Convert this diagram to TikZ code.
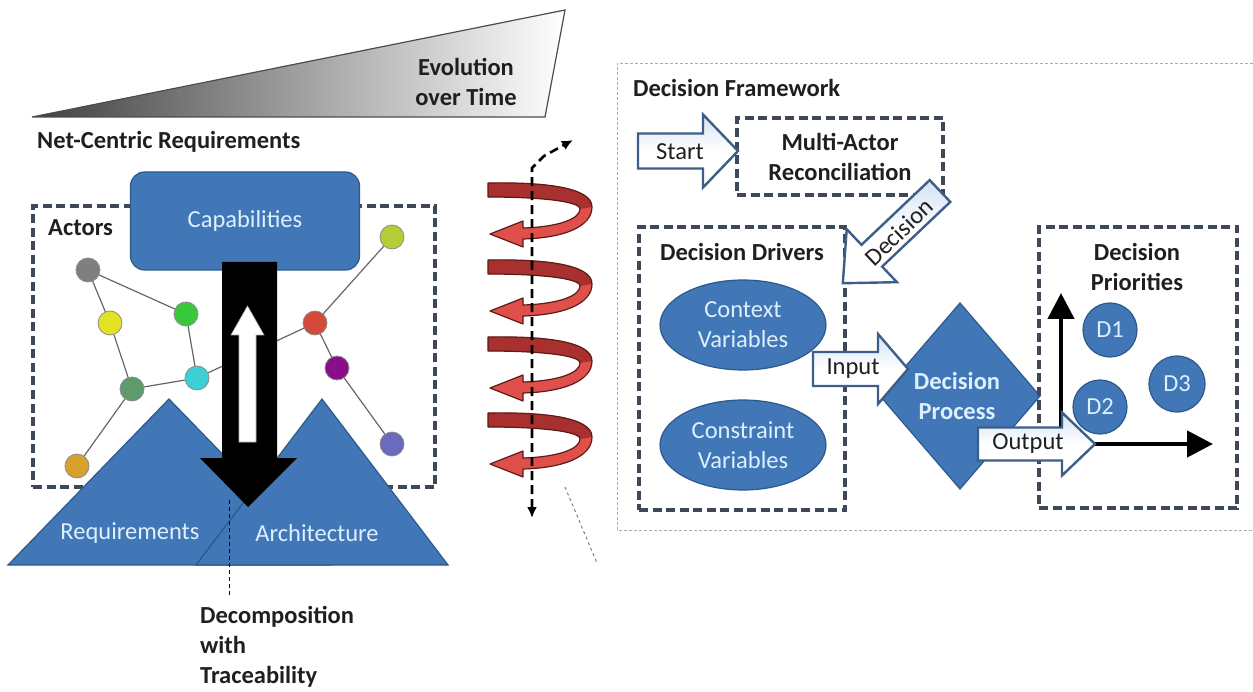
\documentclass[tikz,border=0pt]{standalone}
\usepackage{fontspec}
\setmainfont{Carlito}
\usetikzlibrary{shapes.geometric,arrows.meta}

\definecolor{shapeblue}{HTML}{4176B7}
\definecolor{shapeedge}{HTML}{2D5A8C}
\definecolor{paletext}{HTML}{DDF0FF}
\definecolor{dashgray}{HTML}{3F4858}
\definecolor{framegray}{HTML}{ABABAB}
\definecolor{arrowtop}{HTML}{D3E2F2}
\definecolor{arrowedge}{HTML}{3C5E88}
\definecolor{coildark}{HTML}{A8302E}
\definecolor{coillight}{HTML}{E0504A}
\definecolor{coiledge}{HTML}{5C1A18}
\definecolor{ngray}{HTML}{7F7F7F}
\definecolor{nyellow}{HTML}{E3E323}
\definecolor{ngreen}{HTML}{39C83C}
\definecolor{nsea}{HTML}{5E9A6C}
\definecolor{ncyan}{HTML}{3CCFD6}
\definecolor{norange}{HTML}{D6A22B}
\definecolor{nlime}{HTML}{B6CC36}
\definecolor{nred}{HTML}{D5493A}
\definecolor{npurple}{HTML}{8A0E8A}
\definecolor{nslate}{HTML}{6B6BBE}

\tikzset{
  lbl/.style={font={\fontsize{24.5}{30}\selectfont}, inner sep=0pt, text=black!88},
  hd/.style={lbl, font={\fontsize{24.5}{30}\selectfont\bfseries}},
  inblue/.style={lbl, text=paletext, align=center},
  bluefill/.style={fill=shapeblue, draw=shapeedge, line width=1.2pt, line join=miter},
  dashbox/.style={draw=dashgray, line width=3.2pt, dash pattern=on 9pt off 4.5pt},
  actor/.style={circle, draw=black!45, line width=0.8pt, minimum size=24pt, inner sep=0pt},
  link/.style={draw=black!60, line width=1.2pt},
  blockarrow/.style={top color=arrowtop, bottom color=white, middle color=white, draw=arrowedge, line width=2.4pt, line join=miter},
  axisarrow/.style={line width=4.5pt, -{Triangle[length=26pt,width=26pt]}},
  coil/.pic={
    \fill[coillight] (0,0) .. controls (55,-1) and (104,4) .. (104,24)
      .. controls (104,44) and (75,55) .. (35,56) -- (35,64) -- (2,51) -- (35,38) -- (35,45)
      .. controls (70,44) and (92,36) .. (92,26) .. controls (92,18) and (50,14) .. (0,14) -- cycle;
    \fill[coildark] (0,0) .. controls (55,-1) and (104,4) .. (104,24) -- (92,26)
      .. controls (92,18) and (50,14) .. (0,14) -- cycle;
    \draw[coiledge, line width=1.2pt, line join=round] (0,0) .. controls (55,-1) and (104,4) .. (104,24)
      .. controls (104,44) and (75,55) .. (35,56) -- (35,64) -- (2,51) -- (35,38) -- (35,45)
      .. controls (70,44) and (92,36) .. (92,26) .. controls (92,18) and (50,14) .. (0,14) -- cycle;
  }
}

% block arrow: tail point, direction, length, head length, shaft half-width, head half-width
\newcommand{\blkarrow}[6]{%
  \begin{scope}[shift={(#1)}, rotate=#2]
    \path[blockarrow] (0,-#5) -- ({#3-#4},-#5) -- ({#3-#4},-#6) -- (#3,0)
      -- ({#3-#4},#6) -- ({#3-#4},#5) -- (0,#5) -- cycle;
  \end{scope}}

\begin{document}
\begin{tikzpicture}[x=1pt,y=-1pt]
\useasboundingbox (0,0) rectangle (1253,692);

% ---------- evolution wedge ----------
\coordinate (wl) at (32,117);
\coordinate (wt) at (565,10);
\coordinate (wb) at (545,117);
\shade[left color=black!75, middle color=black!20, right color=white] (wl) -- (wt) -- (wb) -- cycle;
\draw[black!70, line width=1.2pt, line join=miter] (wl) -- (wt) -- (wb) -- cycle;
\node[hd, align=center] (evo) at (466,82) {Evolution\\over Time};

\node[hd, anchor=west] (ncr) at (37,142) {Net-Centric Requirements};

% ---------- actors ----------
\node[dashbox, minimum width=402pt, minimum height=281pt, inner sep=0pt] (actors) at (234,346.5) {};
\node[hd, anchor=west] (actorslbl) at (48,228) {Actors};

\node[actor, fill=ngray]   (a1)  at (88,270) {};
\node[actor, fill=nyellow] (a2)  at (110,323) {};
\node[actor, fill=ngreen]  (a3)  at (186,314) {};
\node[actor, fill=nsea]    (a4)  at (132,389) {};
\node[actor, fill=ncyan]   (a5)  at (197,378) {};
\node[actor, fill=norange] (a6)  at (77,466) {};
\node[actor, fill=nlime]   (a7)  at (392,237) {};
\node[actor, fill=nred]    (a8)  at (315,323) {};
\node[actor, fill=npurple] (a9)  at (337,368) {};
\node[actor, fill=nslate]  (a10) at (392,444) {};
\draw[link] (a1) -- (a2);
\draw[link] (a1) -- (a3);
\draw[link] (a2) -- (a4);
\draw[link] (a3) -- (a5);
\draw[link] (a4) -- (a5);
\draw[link] (a4) -- (a6);
\draw[link] (a5) -- (a8);
\draw[link] (a7) -- (a8);
\draw[link] (a8) -- (a9);
\draw[link] (a9) -- (a10);

\node[bluefill, rounded corners=14pt, minimum width=229pt, minimum height=98pt, inblue] (cap) at (245,221) {Capabilities};

% ---------- requirements / architecture ----------
\filldraw[bluefill] (8,565) -- (169,399) -- (330,565) -- cycle;
\filldraw[bluefill] (196,565) -- (322,399) -- (448,565) -- cycle;
\node[inblue] (req) at (130,533) {Requirements};
\node[inblue] (arch) at (317,533) {Architecture};

\coordinate (dtop) at (229,500);
\coordinate (dbot) at (229,597);
\draw[draw=black!70!blue, line width=1pt, dash pattern=on 4pt off 3pt] (dtop) -- (dbot);

% decomposition arrow with the traceability arrow inside it
\fill[black] (222,262) -- (277,262) -- (277,458) -- (297,458) -- (248,507) -- (200,458) -- (222,458) -- cycle;
\filldraw[fill=white, draw=black!30, line width=0.6pt] (239,442) -- (256,442) -- (256,335) -- (264,335)
  -- (247.5,306) -- (231,335) -- (239,335) -- cycle;

\node[hd, align=left, anchor=north west] (dwt) at (200,606) {Decomposition\\with\\Traceability};

% ---------- evolution coil ----------
\pic at (488,183) {coil};
\pic at (488,260) {coil};
\pic at (488,337) {coil};
\pic at (488,413) {coil};
\coordinate (axbot) at (532,518);
\coordinate (axtop) at (573,140);
\draw[line width=2.6pt, dash pattern=on 9pt off 5pt,
  {Latex[length=11pt,width=10pt]}-{Latex[length=11pt,width=10pt]}]
  (axbot) -- (532,168) -- (544,156) -- (axtop);
\coordinate (zl1) at (565,487);
\coordinate (zl2) at (597,563);
\draw[black!50, line width=1pt, dash pattern=on 3pt off 3pt] (zl1) -- (zl2);

% ---------- decision framework ----------
\draw[framegray, line width=0.9pt, dash pattern=on 3pt off 2pt] (1253,63) -- (617,63) -- (617,530) -- (1253,530);
\node[hd, anchor=west] (dflbl) at (633,88) {Decision Framework};

\node[dashbox, hd, align=center, minimum width=206pt, minimum height=77pt] (mar) at (840,156.5) {Multi-Actor\\Reconciliation};
\blkarrow{638,151}{0}{100}{35}{17.5}{36.5}
\node[lbl] (start) at (680,152) {Start};

\node[dashbox, minimum width=206pt, minimum height=283pt, inner sep=0pt] (dd) at (742,368.5) {};
\node[hd] (ddlbl) at (742,252) {Decision Drivers};

\blkarrow{940,191}{223.5}{134}{40}{15}{36.5}
\node[lbl, rotate=43.5] (dec) at (899,232) {Decision};

\node[bluefill, ellipse, minimum width=166pt, minimum height=90pt, inblue] (ctx) at (743,325) {Context\\Variables};
\node[bluefill, ellipse, minimum width=166pt, minimum height=90pt, inblue] (cons) at (743,445) {Constraint\\Variables};

\filldraw[bluefill] (960,303) -- (1040,396) -- (960,489) -- (880,396) -- cycle;
\node[inblue, font={\fontsize{24.5}{30}\selectfont\bfseries}] (proc) at (957,396) {Decision\\Process};

\blkarrow{813,369}{0}{95}{30}{17}{35}
\node[lbl] (inp) at (853,369) {Input};

\node[dashbox, minimum width=198pt, minimum height=281pt, inner sep=0pt] (dp) at (1138,367.5) {};
\node[hd, align=center] (dplbl) at (1137,267) {Decision\\Priorities};

\coordinate (orig) at (1061,444);
\coordinate (yend) at (1061,293);
\coordinate (xend) at (1213,444);
\draw[axisarrow] (orig) -- (yend);
\draw[axisarrow] (orig) -- (xend);

\blkarrow{978,444}{0}{117}{33}{16.5}{31.5}
\node[lbl] (outp) at (1028,444) {Output};

\node[bluefill, circle, minimum size=54pt, inblue] (d1) at (1110,330) {D1};
\node[bluefill, circle, minimum size=54pt, inblue] (d2) at (1100,407) {D2};
\node[bluefill, circle, minimum size=56pt, inblue] (d3) at (1177,384) {D3};

\end{tikzpicture}
\end{document}
